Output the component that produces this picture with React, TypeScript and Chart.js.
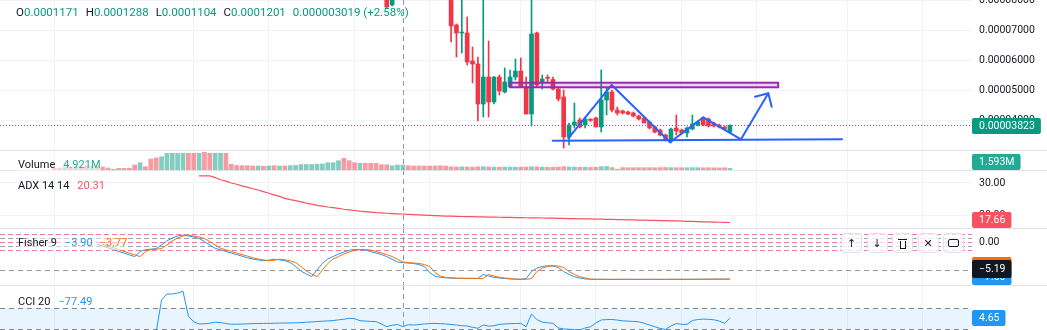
import React, { useEffect, useRef } from 'react';
import { Chart, registerables } from 'chart.js';

Chart.register(...registerables);

// ---------------- values ----------------
const crossBar = 65;
const timeGridBars = [0, 26, 40, 56, 70, 87, 101, 117, 131, 148, 162];
const priceTicks = [0.00008, 0.00007, 0.00006, 0.00005, 0.00004];
const adxTicks = [30, 20];
const fisherTicks = [0];
const fisherLevels = [1.5, 0.75, 0, -0.75, -1.5];
const fisherLevelKinds = ['pink', 'gray', 'pink', 'gray', 'pink'];
const cciBands = [100, -100];
const crosshairFisherValue = -5.19;

const candleStart = 62;
const opens = [
  0.000082, 0.00007833, null, 0.0001171, null, null, null, null, null, null, null, null,
  0.0000835, 0.00007167, 0.000069, 0.000069, 0.00005967, 0.00005867, 0.00004533, 0.00005433, 0.000046, 0.00005433,
  0.00004933, 0.000051, 0.00005433, 0.00005633, 0.000051, 0.000042, 0.000069, 0.00005233, 0.000054, 0.0000535,
  0.00005033, 0.00004767, 0.00003433, 0.00003833, 0.00004, 0.00003833, 0.00004, 0.00004067, 0.00003767, 0.00004667,
  0.00004933, 0.00004333, 0.000043, 0.00004267, 0.00004233, 0.00004133, 0.00004067, 0.00003933, 0.00003767, 0.00003667,
  0.000035, 0.000033, 0.00003733, 0.00003667, 0.00003567, 0.000037, 0.00003833, 0.00004067, 0.00004033, 0.000039,
  0.00003833, 0.00003767, 0.000036,
];
const highs = [
  0.000084, 0.000085, null, 0.0001288, null, null, null, null, null, null, null, null,
  0.000086, 0.000072, 0.000081, 0.00007433, 0.00006433, 0.000061, 0.000081, 0.00006633, 0.0000545, 0.000055,
  0.00005733, 0.00005667, 0.00006033, 0.00006067, 0.00005433, 0.000081, 0.00006933, 0.000055, 0.000055, 0.00005433,
  0.0000505, 0.00005, 0.000039, 0.00004567, 0.00004067, 0.000041, 0.0000405, 0.000041, 0.00005667, 0.00005067,
  0.00005, 0.00004433, 0.00004333, 0.000043, 0.00004267, 0.00004167, 0.00004133, 0.00003967, 0.000038, 0.000037,
  0.00003533, 0.00003733, 0.00004167, 0.000037, 0.00003767, 0.00004167, 0.00003967, 0.000041, 0.00004067, 0.00003933,
  0.00003867, 0.000038, 0.0000384,
];
const lows = [
  0.00007733, 0.000078, null, 0.0001104, null, null, null, null, null, null, null, null,
  0.000066, 0.000061, 0.00006233, 0.00005833, 0.00005233, 0.00003967, 0.000041, 0.000041, 0.00004533, 0.00004833,
  0.000049, 0.000051, 0.00005333, 0.000051, 0.000042, 0.000038, 0.000051, 0.00005033, 0.00005267, 0.00005,
  0.00004633, 0.00003067, 0.00003167, 0.00003733, 0.00003733, 0.00003733, 0.0000395, 0.00003767, 0.000036, 0.00004167,
  0.00004267, 0.00004167, 0.000042, 0.00004167, 0.000041, 0.00004, 0.000039, 0.000037, 0.00003567, 0.00003467,
  0.000033, 0.00003233, 0.000035, 0.00003533, 0.00003433, 0.00003667, 0.000038, 0.000038, 0.00003767, 0.00003767,
  0.00003733, 0.00003667, 0.00003567,
];
const closes = [
  0.00007767, 0.000083, null, 0.0001201, null, null, null, null, null, null, null, null,
  0.00007133, 0.000069, 0.0000692, 0.00005933, 0.00005867, 0.00004533, 0.00005433, 0.000046, 0.00005433, 0.00004967,
  0.00005267, 0.00005433, 0.00005633, 0.000051, 0.000042, 0.00006867, 0.00005167, 0.00005367, 0.0000539, 0.00005033,
  0.000047, 0.00003433, 0.00003833, 0.00003933, 0.00003767, 0.00004033, 0.0000399, 0.00003767, 0.00004667, 0.00004933,
  0.00004333, 0.00004233, 0.00004233, 0.000042, 0.00004133, 0.00004033, 0.000039, 0.00003733, 0.000036, 0.000035,
  0.00003333, 0.000037, 0.00003633, 0.00003567, 0.00003733, 0.00003867, 0.00003933, 0.00003833, 0.000038, 0.000038,
  0.00003767, 0.000037, 0.00003823,
];
const legendChange = 0.000003019;
const legendChangePct = 2.58;

const volumeStart = 0;
const volumes = [
  1.5, 2.0, 2.5, 3.0, 3.5, 3.0, 4.0, 3.5, 4.0, 3.0,
  2.0, 0.7, 1.7, 1.7, 1.7, 5.0, 7.3, 3.3, 11.0, 12.0,
  13.3, 16.7, 16.7, 16.7, 16.7, 16.7, 16.7, 16.7, 17.7, 16.7,
  16.7, 16.7, 16.7, 5.7, 4.5, 4.3, 4.3, 4.0, 4.0, 3.7,
  4.0, 4.3, 4.0, 4.0, 4.3, 4.5, 5.5, 5.5, 5.5, 5.8,
  6.0, 7.3, 7.3, 9.3, 11.7, 9.3, 7.3, 6.7, 6.7, 6.7,
  6.7, 5.3, 5.3, 4.3, 5.0, 4.921, 4.3, 4.0, 4.0, 4.0,
  4.0, 4.0, 4.2, 4.0, 3.2, 3.0, 3.1, 3.0, 2.9, 3.2,
  3.3, 3.0, 2.9, 2.8, 2.9, 3.0, 2.8, 2.9, 3.0, 3.2,
  3.1, 2.8, 2.7, 2.8, 2.9, 3.3, 3.0, 2.9, 2.7, 2.8,
  2.6, 2.7, 3.3, 3.5, 2.4, 0.8, 2.4, 2.3, 2.3, 2.4,
  2.3, 2.4, 2.3, 2.4, 2.5, 2.4, 2.3, 2.2, 2.3, 2.4,
  2.3, 2.2, 2.3, 2.2, 2.1, 2.2, 1.593,
];
const volumeDirs =
  'ddududdudd' + 'dddddduddd' + 'uuuuuddudd' + 'uuddddddud' + 'ududuuuuuu' +
  'uuuudddudd' + 'ddduuudddd' + 'dddddduddd' + 'ududuuuddu' + 'dudddduudu' +
  'dduudddddd' + 'dddddudduu' + 'udddddu';

const adxStart = 27;
const adxValues = [
  32.2, 32.2, 32.2, 31.7, 31.0, 30.6, 30.0, 29.6, 29.1, 28.7,
  28.2, 27.8, 27.3, 26.8, 26.3, 25.8, 25.2, 24.8, 24.5, 24.1,
  23.7, 23.4, 23.0, 22.8, 22.5, 22.3, 22.1, 21.8, 21.6, 21.4,
  21.2, 21.05, 20.9, 20.75, 20.65, 20.55, 20.45, 20.38, 20.31, 20.2,
  20.1, 20.02, 19.95, 19.88, 19.8, 19.74, 19.68, 19.62, 19.58, 19.54,
  19.5, 19.47, 19.43, 19.4, 19.36, 19.33, 19.3, 19.27, 19.23, 19.2,
  19.18, 19.15, 19.12, 19.09, 19.06, 19.03, 19.0, 18.96, 18.93, 18.89,
  18.86, 18.82, 18.79, 18.76, 18.73, 18.7, 18.66, 18.62, 18.58, 18.54,
  18.5, 18.46, 18.42, 18.38, 18.34, 18.3, 18.26, 18.22, 18.18, 18.14,
  18.1, 18.04, 17.98, 17.93, 17.88, 17.83, 17.78, 17.74, 17.7, 17.66,
];

const fisherStart = 8;
const fisherValues = [
  -0.43, -0.75, -1.09, -1.43, -1.77, -2.09, -2.43, -2.75, -1.79, -1.43,
  -1.36, -1.23, -0.57, 0.19, 0.75, 1.13, 1.32, 1.13, 0.94, 0.66,
  0.09, -0.57, -1.19, -1.47, -1.79, -2.08, -2.38, -2.66, -2.98, -3.21,
  -3.38, -3.53, -3.43, -3.26, -3.36, -3.55, -3.87, -4.62, -5.47, -6.04,
  -6.55, -5.28, -4.06, -3.21, -2.74, -2.26, -1.89, -1.57, -1.4, -1.42,
  -1.51, -1.79, -2.08, -2.36, -2.75, -3.25, -3.77, -3.9, -3.97, -4.05,
  -4.25, -4.62, -5.75, -6.42, -6.68, -6.75, -6.82, -6.85, -6.86, -6.86,
  -6.87, -6.87, -6.13, -6.42, -6.66, -6.79, -6.89, -6.98, -7.02, -7.04,
  -6.89, -5.57, -4.91, -4.62, -4.47, -4.53, -4.81, -5.57, -6.13, -6.55,
  -6.79, -6.98, -7.03, -7.04, -7.04, -7.05, -7.05, -7.05, -7.04, -7.04,
  -7.05, -7.05, -7.04, -7.04, -7.05, -7.05, -7.04, -7.04, -7.03, -7.04,
  -7.04, -7.03, -7.03, -7.02, -7.02, -7.01, -7.01, -7.0, -7.0,
];
const triggerStart = 9;
const triggerValues = [
  -0.43, -0.75, -1.09, -1.43, -1.77, -2.09, -2.43, -2.75, -1.79, -1.43,
  -1.36, -1.23, -0.57, 0.19, 0.75, 1.13, 1.32, 1.13, 0.94, 0.66,
  0.09, -0.57, -1.19, -1.47, -1.79, -2.08, -2.38, -2.66, -2.98, -3.21,
  -3.38, -3.53, -3.43, -3.26, -3.36, -3.55, -3.87, -4.62, -5.47, -6.04,
  -6.55, -5.28, -4.06, -3.21, -2.74, -2.26, -1.89, -1.57, -1.4, -1.42,
  -1.51, -1.79, -2.08, -2.36, -2.75, -3.25, -3.77, -3.9, -3.97, -4.05,
  -4.25, -4.62, -5.75, -6.42, -6.68, -6.75, -6.82, -6.85, -6.86, -6.86,
  -6.87, -6.87, -6.13, -6.42, -6.66, -6.79, -6.89, -6.98, -7.02, -7.04,
  -6.89, -5.57, -4.91, -4.62, -4.47, -4.53, -4.81, -5.57, -6.13, -6.55,
  -6.79, -6.98, -7.03, -7.04, -7.04, -7.05, -7.05, -7.05, -7.04, -7.04,
  -7.05, -7.05, -7.04, -7.04, -7.05, -7.05, -7.04, -7.04, -7.03, -7.04,
  -7.04, -7.03, -7.03, -7.02, -7.02, -7.01, -7.01, -7.0,
];

const cciStart = 19;
const cciValues = [
  -130, 176, 233, 233, 243, 259, 24, -33, -52, -50,
  -45, -36, -38, -48, -55, -54, -53, -51, -49, -48,
  -47, -46, -45, -44, -43, -42, -41, -39, -36, -33,
  -29, -26, -23, -20, -13, -7, 2, -2, -21, -24,
  -28, -30, -52, -78, -64, -57, -77.49, -59, -62, -58,
  -52, -48, -47, -49, -52, -57, -62, -69, -71, -84,
  -93, -62, -73, -69, -56, -52, -49, -48, -46, -78,
  43, -10, -35, -41, -46, -90, -100, -103, -106, -109,
  -90, -79, -43, -14, -10, -9, -15, -22, -25, -28,
  -31, -45, -62, -78, -95, -104, -71, -48, -55, -56,
  -19, -10, -6, -8, -12, -24, -46, 4.65,
];

// drawings on the price pane, in (bar, price) units
const rangeBox = { fromBar: 85, toBar: 135, top: 0.00005243, bottom: 0.0000509 };
const patternBars = [95.86, 103.95, 114.83, 121.04, 128.07, 133.16];
const patternPrices = [0.0000339, 0.00005167, 0.00003257, 0.0000409, 0.00003357, 0.0000489];
const arrowBars = [130.68, 133.16, 133.79];
const arrowPrices = [0.00004777, 0.0000489, 0.00004443];
const supportBars = [92.95, 146.9];
const supportPrices = [0.0000331, 0.00003357];

// ---------------- layout & style ----------------
const W = 1047;
const AXIS_W = 75;
const PLOT_W = W - AXIS_W;
const BAR_PX = 5.362;
const FIRST_BAR_X = 54.3;
const X_MIN = -FIRST_BAR_X / BAR_PX;
const X_MAX = X_MIN + PLOT_W / BAR_PX;
const PANES = {
  main: { top: 0, h: 150, min: 0.00003, max: 0.00008 },
  vol: { top: 150, h: 20, min: 0, max: 20 },
  adx: { top: 170, h: 58, min: 15.94, max: 34.06 },
  fisher: { top: 228, h: 57, min: -8.113, max: 2.642 },
  cci: { top: 285, h: 45, min: -109.52, max: 319.05 },
};

const UP = '#089981';
const DOWN = '#f23645';
const UP_VOL = 'rgba(8,153,129,0.5)';
const DOWN_VOL = 'rgba(242,54,69,0.5)';
const GRID = '#f0f3fa';
const SEP = '#e0e3eb';
const TEXT = '#131722';
const CROSS = '#9598a1';
const BLUE = '#2196f3';
const ORANGE = '#ff6d00';
const ADX_RED = '#f7525f';
const DRAW_BLUE = '#2962ff';
const PURPLE = '#9c27b0';
const AXIS_FONT = '10.5px Roboto, sans-serif';
const FONT = 'Roboto, sans-serif';

const fmtSigned = (v: number, d: number) => (v < 0 ? '\u2212' : '') + Math.abs(v).toFixed(d);
const last = (a: any[]) => a[a.length - 1];

function baseOptions(p: any, yTicks: number[]) {
  return {
    responsive: false,
    maintainAspectRatio: false,
    animation: false,
    events: [],
    layout: { padding: 0 },
    plugins: { legend: { display: false }, tooltip: { enabled: false } },
    scales: {
      x: {
        type: 'linear',
        min: X_MIN,
        max: X_MAX,
        offset: false,
        grid: { color: GRID, drawTicks: false, offset: false, lineWidth: 1 },
        border: { display: false },
        ticks: { display: false },
        afterBuildTicks: (s: any) => {
          s.ticks = timeGridBars.map((v) => ({ value: v }));
        },
      },
      y: {
        type: 'linear',
        position: 'right',
        min: p.min,
        max: p.max,
        grid: { color: GRID, drawTicks: false, lineWidth: 1 },
        border: { display: false },
        ticks: { display: false },
        afterBuildTicks: (s: any) => {
          s.ticks = yTicks.map((v) => ({ value: v }));
        },
        afterFit: (s: any) => {
          s.width = AXIS_W;
        },
      },
    },
  };
}

function hLine(ctx: any, y: number, x0: number, x1: number, color: string, dash: number[]) {
  ctx.save();
  ctx.strokeStyle = color;
  ctx.lineWidth = 1;
  ctx.setLineDash(dash);
  const yy = Math.round(y) + 0.5;
  ctx.beginPath();
  ctx.moveTo(x0, yy);
  ctx.lineTo(x1, yy);
  ctx.stroke();
  ctx.restore();
}

function axisLabel(ctx: any, text: string, y: number) {
  ctx.save();
  ctx.font = AXIS_FONT;
  ctx.fillStyle = TEXT;
  ctx.textAlign = 'left';
  ctx.textBaseline = 'middle';
  ctx.fillText(text, PLOT_W + 7, y);
  ctx.restore();
}

function valueBox(ctx: any, text: string, cy: number, bg: string, h = 16, fg = '#ffffff') {
  ctx.save();
  ctx.font = AXIS_FONT;
  const w = ctx.measureText(text).width + 13;
  const top = Math.round(cy - h / 2);
  ctx.fillStyle = bg;
  ctx.beginPath();
  ctx.roundRect(PLOT_W, top, w, h, 2);
  ctx.fill();
  ctx.fillStyle = fg;
  ctx.textAlign = 'left';
  ctx.textBaseline = 'middle';
  ctx.fillText(text, PLOT_W + 7, top + h / 2 + 0.5);
  ctx.restore();
}

function decor(opts: { separator: boolean; under?: (c: any) => void; over?: (c: any) => void; axis?: (c: any) => void }) {
  return {
    id: 'decor',
    beforeDatasetsDraw(c: any) {
      if (opts.under) {
        c.ctx.save();
        opts.under(c);
        c.ctx.restore();
      }
    },
    afterDatasetsDraw(c: any) {
      const ctx = c.ctx;
      const a = c.chartArea;
      if (opts.over) {
        ctx.save();
        opts.over(c);
        ctx.restore();
      }
      ctx.save();
      const x = Math.round(c.scales.x.getPixelForValue(crossBar)) + 0.5;
      ctx.strokeStyle = CROSS;
      ctx.lineWidth = 1;
      ctx.setLineDash([5, 4]);
      ctx.beginPath();
      ctx.moveTo(x, a.top);
      ctx.lineTo(x, a.bottom);
      ctx.stroke();
      ctx.restore();
    },
    afterDraw(c: any) {
      const ctx = c.ctx;
      if (opts.axis) {
        ctx.save();
        opts.axis(c);
        ctx.restore();
      }
      if (opts.separator) {
        ctx.save();
        ctx.fillStyle = SEP;
        ctx.fillRect(0, 0, W, 1);
        ctx.restore();
      }
    },
  };
}

function lineSet(xs: number[], ys: number[], color: string, width: number) {
  return {
    type: 'line',
    data: xs.map((x, k) => ({ x, y: ys[k] })),
    borderColor: color,
    borderWidth: width,
    pointRadius: 0,
    tension: 0,
    fill: false,
    borderJoinStyle: 'round',
    borderCapStyle: 'round',
  };
}

function seriesSet(start: number, values: number[], color: string, width = 1) {
  return {
    type: 'line',
    data: values.map((v, k) => ({ x: start + k, y: v })),
    borderColor: color,
    borderWidth: width,
    pointRadius: 0,
    tension: 0,
    fill: false,
  };
}

function mainConfig() {
  const bars = opens
    .map((o, k) => ({ i: candleStart + k, o, h: highs[k], l: lows[k], c: closes[k] }))
    .filter((d) => d.o != null) as any[];
  const colors = bars.map((d) => (d.c >= d.o ? UP : DOWN));
  const lastClose = last(closes);
  return {
    type: 'bar',
    data: {
      datasets: [
        lineSet(patternBars, patternPrices, DRAW_BLUE, 2),
        lineSet(arrowBars, arrowPrices, DRAW_BLUE, 2),
        lineSet(supportBars, supportPrices, DRAW_BLUE, 2),
        {
          type: 'bar',
          data: bars.map((d) => ({ x: d.i, y: [Math.min(d.o, d.c), Math.max(d.o, d.c)] })),
          backgroundColor: colors,
          barThickness: 4,
          minBarLength: 1,
          grouped: false,
          borderWidth: 0,
        },
        {
          type: 'bar',
          data: bars.map((d) => ({ x: d.i, y: [d.l, d.h] })),
          backgroundColor: colors,
          barThickness: 1,
          grouped: false,
          borderWidth: 0,
        },
      ],
    },
    options: baseOptions(PANES.main, priceTicks),
    plugins: [
      decor({
        separator: false,
        over: (c) => {
          const ctx = c.ctx;
          const xs = c.scales.x;
          const ys = c.scales.y;
          hLine(ctx, ys.getPixelForValue(lastClose), 0, PLOT_W, UP, [1, 2]);
          const x0 = xs.getPixelForValue(rangeBox.fromBar);
          const x1 = xs.getPixelForValue(rangeBox.toBar);
          const y0 = ys.getPixelForValue(rangeBox.top);
          const y1 = ys.getPixelForValue(rangeBox.bottom);
          ctx.fillStyle = 'rgba(156,39,176,0.2)';
          ctx.fillRect(x0, y0, x1 - x0, y1 - y0);
          ctx.strokeStyle = PURPLE;
          ctx.lineWidth = 2;
          ctx.strokeRect(x0, y0, x1 - x0, y1 - y0);
        },
        axis: (c) => {
          const ys = c.scales.y;
          priceTicks.forEach((v) => axisLabel(c.ctx, v.toFixed(8), ys.getPixelForValue(v)));
          valueBox(c.ctx, lastClose.toFixed(8), ys.getPixelForValue(lastClose) + 1, UP);
        },
      }),
    ],
  };
}

function volumeConfig() {
  const lastVol = last(volumes);
  return {
    type: 'bar',
    data: {
      datasets: [
        {
          type: 'bar',
          data: volumes.map((v, k) => ({ x: volumeStart + k, y: v })),
          backgroundColor: volumes.map((_, k) => (volumeDirs[k] === 'u' ? UP_VOL : DOWN_VOL)),
          barThickness: 4,
          grouped: false,
          borderWidth: 0,
        },
      ],
    },
    options: baseOptions(PANES.vol, []),
    plugins: [
      decor({
        separator: true,
        axis: (c) => {
          const y = Math.min(c.scales.y.getPixelForValue(lastVol), c.height - 8);
          valueBox(c.ctx, lastVol.toFixed(3) + 'M', y, '#22ab94');
        },
      }),
    ],
  };
}

function adxConfig() {
  const lastAdx = last(adxValues);
  return {
    type: 'line',
    data: { datasets: [seriesSet(adxStart, adxValues, ADX_RED, 1.2)] },
    options: baseOptions(PANES.adx, adxTicks),
    plugins: [
      decor({
        separator: true,
        axis: (c) => {
          const ys = c.scales.y;
          adxTicks.forEach((v) => axisLabel(c.ctx, v.toFixed(2), ys.getPixelForValue(v)));
          valueBox(c.ctx, lastAdx.toFixed(2), Math.min(ys.getPixelForValue(lastAdx), c.height - 8), ADX_RED);
        },
      }),
    ],
  };
}

function fisherConfig() {
  const lastF = last(fisherValues);
  const lastT = last(triggerValues);
  return {
    type: 'line',
    data: {
      datasets: [seriesSet(triggerStart, triggerValues, ORANGE), seriesSet(fisherStart, fisherValues, BLUE)],
    },
    options: baseOptions(PANES.fisher, []),
    plugins: [
      decor({
        separator: true,
        under: (c) => {
          const ys = c.scales.y;
          fisherLevels.forEach((v, k) =>
            hLine(c.ctx, ys.getPixelForValue(v), 0, PLOT_W,
              fisherLevelKinds[k] === 'pink' ? 'rgba(233,30,99,0.6)' : 'rgba(120,123,134,0.7)', [5, 3]),
          );
        },
        over: (c) => {
          hLine(c.ctx, c.scales.y.getPixelForValue(crosshairFisherValue), 0, PLOT_W, CROSS, [5, 4]);
        },
        axis: (c) => {
          const ys = c.scales.y;
          fisherTicks.forEach((v) => axisLabel(c.ctx, v.toFixed(2), ys.getPixelForValue(v)));
          const yF = Math.min(ys.getPixelForValue(lastF), c.height - 8);
          const yT = Math.min(ys.getPixelForValue(lastT), yF - 12);
          valueBox(c.ctx, fmtSigned(lastT, 2), yT, ORANGE);
          valueBox(c.ctx, fmtSigned(lastF, 2), yF, BLUE);
          valueBox(c.ctx, fmtSigned(crosshairFisherValue, 2), ys.getPixelForValue(crosshairFisherValue) - 1, TEXT, 18);
        },
      }),
    ],
  };
}

function cciConfig() {
  const lastC = last(cciValues);
  return {
    type: 'line',
    data: { datasets: [seriesSet(cciStart, cciValues, BLUE)] },
    options: baseOptions(PANES.cci, []),
    plugins: [
      decor({
        separator: true,
        under: (c) => {
          const ys = c.scales.y;
          const yTop = ys.getPixelForValue(cciBands[0]);
          const yBot = ys.getPixelForValue(cciBands[1]);
          c.ctx.fillStyle = 'rgba(33,150,243,0.1)';
          c.ctx.fillRect(0, yTop, PLOT_W, yBot - yTop);
          cciBands.forEach((v) => hLine(c.ctx, ys.getPixelForValue(v), 0, PLOT_W, 'rgba(120,123,134,0.9)', [5, 4]));
        },
        axis: (c) => {
          valueBox(c.ctx, lastC.toFixed(2), c.scales.y.getPixelForValue(lastC), BLUE);
        },
      }),
    ],
  };
}

const legendBase: any = {
  position: 'absolute',
  fontFamily: FONT,
  fontSize: 11,
  lineHeight: '14px',
  color: TEXT,
  whiteSpace: 'nowrap',
};

function PaneButtons() {
  const boxStyle = (k: number): any => ({
    position: 'absolute',
    left: 841 + k * 25.5,
    top: 233,
    width: 21,
    height: 20,
    boxSizing: 'border-box',
    border: '1px solid #e0e3eb',
    borderRadius: 4,
    background: 'rgba(255,255,255,0.75)',
    display: 'flex',
    alignItems: 'center',
    justifyContent: 'center',
    fontFamily: '"DejaVu Sans", sans-serif',
    fontSize: 11,
    color: TEXT,
  });
  return (
    <>
      <div style={boxStyle(0)}>{'\u2191'}</div>
      <div style={boxStyle(1)}>{'\u2193'}</div>
      <div style={boxStyle(2)}>
        <div style={{ position: 'relative', width: 9, height: 11 }}>
          <div style={{ position: 'absolute', left: 0, top: 1, width: 9, height: 1.2, background: TEXT }} />
          <div style={{ position: 'absolute', left: 1.5, top: 3, width: 6, height: 8, boxSizing: 'border-box', border: '1.2px solid ' + TEXT, borderTop: 'none' }} />
        </div>
      </div>
      <div style={boxStyle(3)}>{'\u2715'}</div>
      <div style={boxStyle(4)}>
        <div style={{ width: 11, height: 8, boxSizing: 'border-box', border: '1.2px solid ' + TEXT, borderRadius: 2 }} />
      </div>
    </>
  );
}

export default function App() {
  const mainRef = useRef<HTMLCanvasElement>(null);
  const volRef = useRef<HTMLCanvasElement>(null);
  const adxRef = useRef<HTMLCanvasElement>(null);
  const fisherRef = useRef<HTMLCanvasElement>(null);
  const cciRef = useRef<HTMLCanvasElement>(null);

  useEffect(() => {
    document.body.style.margin = '0';
    const charts = [
      new Chart(mainRef.current as any, mainConfig() as any),
      new Chart(volRef.current as any, volumeConfig() as any),
      new Chart(adxRef.current as any, adxConfig() as any),
      new Chart(fisherRef.current as any, fisherConfig() as any),
      new Chart(cciRef.current as any, cciConfig() as any),
    ];
    return () => charts.forEach((c) => c.destroy());
  }, []);

  const k = crossBar - candleStart;
  const cv = (p: any): any => ({ position: 'absolute', left: 0, top: p.top, display: 'block' });
  const gap = { marginLeft: 7 };

  return (
    <div style={{ position: 'fixed', left: 0, top: 0, width: W, height: 330, background: '#ffffff', overflow: 'hidden' }}>
      <canvas ref={mainRef} width={W} height={PANES.main.h} style={cv(PANES.main)} />
      <canvas ref={volRef} width={W} height={PANES.vol.h} style={cv(PANES.vol)} />
      <canvas ref={adxRef} width={W} height={PANES.adx.h} style={cv(PANES.adx)} />
      <canvas ref={fisherRef} width={W} height={PANES.fisher.h} style={cv(PANES.fisher)} />
      <canvas ref={cciRef} width={W} height={PANES.cci.h} style={cv(PANES.cci)} />

      <div style={{ ...legendBase, fontSize: 11.5, left: 16, top: 5 }}>
        <span>O</span><span style={{ color: UP }}>{(opens[k] as number).toFixed(7)}</span>
        <span style={gap}>H</span><span style={{ color: UP }}>{(highs[k] as number).toFixed(7)}</span>
        <span style={gap}>L</span><span style={{ color: UP }}>{(lows[k] as number).toFixed(7)}</span>
        <span style={gap}>C</span><span style={{ color: UP }}>{(closes[k] as number).toFixed(7)}</span>
        <span style={{ ...gap, color: UP }}>{legendChange.toFixed(9)} (+{legendChangePct.toFixed(2)}%)</span>
      </div>

      <div style={{ ...legendBase, left: 18, top: 158, background: 'rgba(255,255,255,0.5)' }}>
        <span>Volume</span>
        <span style={{ marginLeft: 8, color: '#22ab94' }}>{volumes[crossBar - volumeStart].toFixed(3)}M</span>
      </div>
      <div style={{ ...legendBase, left: 18, top: 179 }}>
        <span>ADX 14 14</span>
        <span style={{ marginLeft: 8, color: ADX_RED }}>{adxValues[crossBar - adxStart].toFixed(2)}</span>
      </div>
      <div style={{ ...legendBase, left: 18, top: 236, background: 'rgba(255,255,255,0.5)' }}>
        <span>Fisher 9</span>
        <span style={{ marginLeft: 8, color: BLUE }}>{fmtSigned(fisherValues[crossBar - fisherStart], 2)}</span>
        <span style={{ marginLeft: 7, color: ORANGE }}>{fmtSigned(triggerValues[crossBar - triggerStart], 2)}</span>
      </div>
      <div style={{ ...legendBase, left: 18, top: 295 }}>
        <span>CCI 20</span>
        <span style={{ marginLeft: 8, color: BLUE }}>{fmtSigned(cciValues[crossBar - cciStart], 2)}</span>
      </div>

      <PaneButtons />
    </div>
  );
}
